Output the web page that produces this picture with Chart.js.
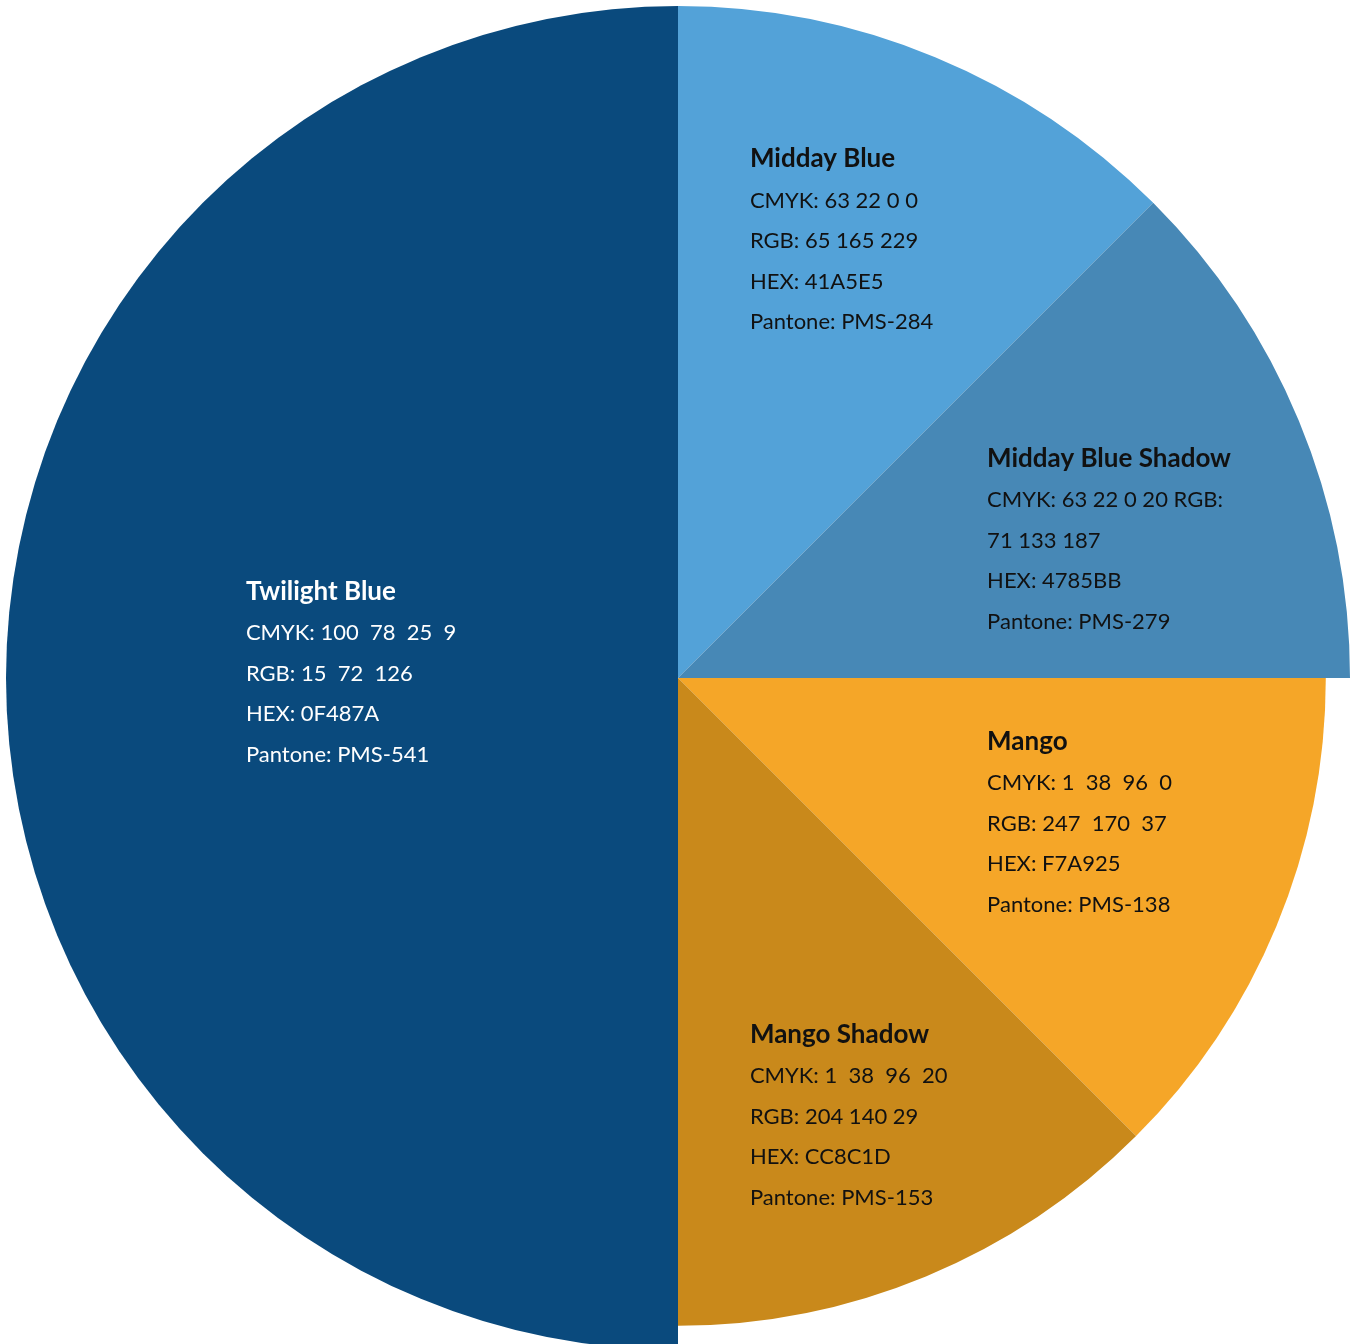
<!DOCTYPE html>
<html>
<head>
<meta charset="utf-8">
<script src="https://cdn.jsdelivr.net/npm/chart.js@4/dist/chart.umd.min.js"></script>
<style>
  html, body { margin: 0; padding: 0; background: #fff; overflow: hidden; }
  #wrap { position: absolute; left: 0; top: 0; width: 1356px; height: 1356px; }
</style>
</head>
<body>
<div id="wrap"><canvas id="chart"></canvas></div>
<script>
// Slices, clockwise from 12 o'clock
const names = ['Midday Blue', 'Midday Blue Shadow', 'Mango', 'Mango Shadow', 'Twilight Blue'];
const shares = [12.5, 12.5, 12.5, 12.5, 50];
const cmyk = ['63 22 0 0', '63 22 0 20', '1  38  96  0', '1  38  96  20', '100  78  25  9'];
const rgb = ['65 165 229', '71 133 187', '247  170  37', '204 140 29', '15  72  126'];
const hex = ['41A5E5', '4785BB', 'F7A925', 'CC8C1D', '0F487A'];
const pantone = ['PMS-284', 'PMS-279', 'PMS-138', 'PMS-153', 'PMS-541'];

const colors = ['#53a2d8', '#4788b6', '#f5a628', '#c9891b', '#0a4a7d'];
const textColors = ['#111', '#111', '#111', '#111', '#fff'];
const radiusScale = [1, 1, 0.964, 0.964, 1];
// label anchor, as a fraction of the radius from the centre
const labelPos = [[0.107, -0.773], [0.46, -0.327], [0.46, 0.094], [0.107, 0.530], [-0.643, -0.129]];

function labelLines(i) {
    if (i === 1) {
        // this one wraps oddly in the original
        return ['CMYK: ' + cmyk[i] + ' RGB:', rgb[i], 'HEX: ' + hex[i], 'Pantone: ' + pantone[i]];
    }
    return ['CMYK: ' + cmyk[i], 'RGB: ' + rgb[i], 'HEX: ' + hex[i], 'Pantone: ' + pantone[i]];
}

const sliceRadius = {
    id: 'sliceRadius',
    beforeDatasetsDraw(chart) {
        const meta = chart.getDatasetMeta(0);
        meta.data.forEach((arc, i) => {
            arc.outerRadius = meta.controller.outerRadius * radiusScale[i];
        });
    }
};

const sliceLabels = {
    id: 'sliceLabels',
    afterDatasetsDraw(chart) {
        const ctx = chart.ctx;
        const meta = chart.getDatasetMeta(0);
        const arc0 = meta.data[0];
        const cx = arc0.x, cy = arc0.y, r = meta.controller.outerRadius;
        ctx.save();
        ctx.textAlign = 'left';
        ctx.textBaseline = 'middle';
        names.forEach((name, i) => {
            const x = cx + labelPos[i][0] * r;
            let y = cy + labelPos[i][1] * r;
            ctx.fillStyle = textColors[i];
            ctx.font = 'bold 26px Lato';
            ctx.fillText(name, x, y);
            y += 42;
            ctx.font = '22px Lato';
            labelLines(i).forEach(line => {
                ctx.fillText(line, x, y);
                y += 40.5;
            });
        });
        ctx.restore();
    }
};

new Chart(document.getElementById('chart'), {
    type: 'pie',
    data: {
        labels: names,
        datasets: [{
            data: shares,
            backgroundColor: colors,
            borderWidth: 0
        }]
    },
    options: {
        responsive: true,
        maintainAspectRatio: false,
        animation: false,
        layout: { padding: 6 },
        plugins: {
            legend: { display: false },
            tooltip: { enabled: false }
        }
    },
    plugins: [sliceRadius, sliceLabels]
});
</script>
</body>
</html>
